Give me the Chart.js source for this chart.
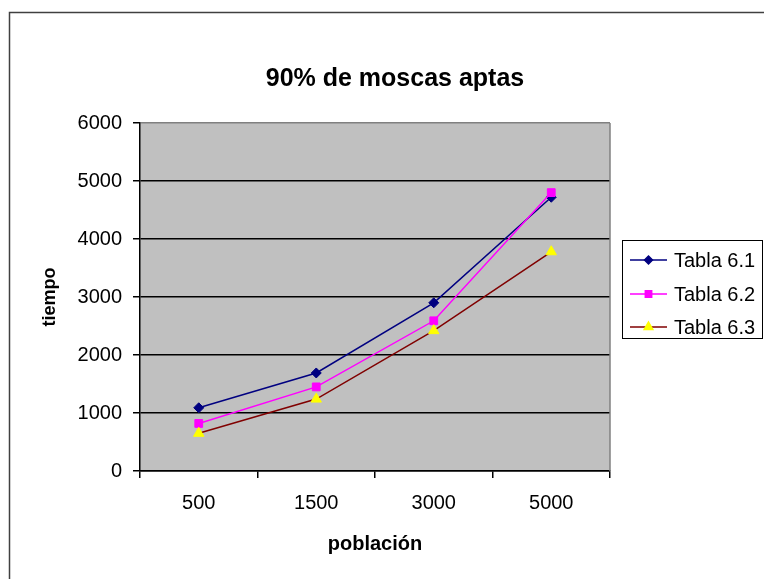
<!DOCTYPE html>
<html lang="es">
<head>
<meta charset="utf-8">
<title>90% de moscas aptas</title>
<script src="https://cdn.jsdelivr.net/npm/chart.js@4.4.1/dist/chart.umd.min.js"></script>
<style>
  html, body { margin: 0; padding: 0; background: #fff; overflow: hidden; }
  #marco { position: relative; width: 764px; height: 579px; }
</style>
</head>
<body>
<div id="marco"><canvas id="grafico" width="764" height="579"></canvas></div>
<script>
// =====================
// DATOS
// =====================
const poblacion = ["500", "1500", "3000", "5000"];
const tabla61 = [1090, 1690, 2900, 4720];
const tabla62 = [820, 1450, 2590, 4800];
const tabla63 = [650, 1240, 2420, 3780];
const nombres = ["Tabla 6.1", "Tabla 6.2", "Tabla 6.3"];
const tiempoMin = 0;
const tiempoMax = 6000;
const tiempoPaso = 1000;

const FUENTE = "'Liberation Sans', Arial, sans-serif";

// estilo de cada serie (línea, marcador)
const estilos = [
    { linea: "#000080", relleno: "#000080", forma: "rectRot", radio: 5 },
    { linea: "#FF00FF", relleno: "#FF00FF", forma: "rect", radio: 5.5 },
    { linea: "#800000", relleno: "#FFFF00", forma: "triangle", radio: 6 }
];

// =====================
// FONDO, TÍTULO Y LEYENDA
// =====================
const marcoExcel = {
    id: "marcoExcel",
    beforeDraw(chart) {
        let ctx = chart.ctx;
        let a = chart.chartArea;
        ctx.save();
        ctx.fillStyle = "#fff";
        ctx.fillRect(0, 0, chart.width, chart.height);
        ctx.strokeStyle = "#404040";
        ctx.lineWidth = 1.5;
        ctx.strokeRect(9.5, 12.5, 900, 900);
        ctx.fillStyle = "#C0C0C0";
        ctx.fillRect(a.left, a.top, a.right - a.left, a.bottom - a.top);
        ctx.restore();
    },
    afterDraw(chart) {
        let ctx = chart.ctx;
        let a = chart.chartArea;
        ctx.save();

        // borde derecho del área de trazado
        ctx.strokeStyle = "#808080";
        ctx.lineWidth = 1.5;
        ctx.beginPath();
        ctx.moveTo(a.right, a.top);
        ctx.lineTo(a.right, a.bottom);
        ctx.stroke();

        // título
        ctx.fillStyle = "#000";
        ctx.font = "bold 25px " + FUENTE;
        ctx.textAlign = "center";
        ctx.textBaseline = "alphabetic";
        ctx.fillText("90% de moscas aptas", 395, 86);

        // leyenda
        ctx.fillStyle = "#fff";
        ctx.fillRect(622, 240, 140, 98);
        ctx.strokeStyle = "#000";
        ctx.lineWidth = 1;
        ctx.strokeRect(622.5, 240.5, 140, 98);

        let filas = [260, 294, 327];
        ctx.font = "20px " + FUENTE;
        ctx.textAlign = "left";
        ctx.textBaseline = "middle";
        nombres.forEach((n, i) => {
            let e = estilos[i];
            let y = filas[i];
            ctx.strokeStyle = e.linea;
            ctx.lineWidth = 1.5;
            ctx.beginPath();
            ctx.moveTo(630, y);
            ctx.lineTo(667, y);
            ctx.stroke();
            ctx.fillStyle = e.relleno;
            ctx.strokeStyle = e.relleno;
            Chart.helpers.drawPoint(ctx, { pointStyle: e.forma, radius: e.radio - 1, rotation: 0, borderWidth: 1 }, 648.5, y);
            ctx.fillStyle = "#000";
            ctx.fillText(n, 674, y + 1);
        });
        ctx.restore();
    }
};

// =====================
// GRÁFICO
// =====================
const series = [tabla61, tabla62, tabla63];

new Chart(document.getElementById("grafico").getContext("2d"), {
    type: "line",
    data: {
        labels: poblacion,
        datasets: series.map((datos, i) => ({
            label: nombres[i],
            data: datos,
            borderColor: estilos[i].linea,
            backgroundColor: estilos[i].relleno,
            pointBackgroundColor: estilos[i].relleno,
            pointBorderColor: estilos[i].relleno,
            pointStyle: estilos[i].forma,
            pointRadius: estilos[i].radio,
            pointBorderWidth: 1,
            borderWidth: 1.5,
            tension: 0,
            fill: false,
            order: 3 - i
        }))
    },
    options: {
        responsive: false,
        animation: false,
        devicePixelRatio: 1,
        events: [],
        layout: { padding: { top: 123, right: 154, bottom: 0, left: 0 } },
        plugins: {
            legend: { display: false },
            title: { display: false },
            tooltip: { enabled: false }
        },
        scales: {
            x: {
                type: "category",
                offset: true,
                afterFit: s => { s.height = 108; },
                grid: {
                    offset: true,
                    drawOnChartArea: false,
                    drawTicks: true,
                    tickLength: 7,
                    color: "#000",
                    lineWidth: 1.5
                },
                border: { color: "#000", width: 1.5 },
                ticks: {
                    color: "#000",
                    font: { family: FUENTE, size: 20 },
                    padding: 13,
                    maxRotation: 0,
                    autoSkip: false
                },
                title: {
                    display: true,
                    text: "población",
                    color: "#000",
                    font: { family: FUENTE, size: 20, weight: "bold" },
                    padding: { top: 0, bottom: 23 }
                }
            },
            y: {
                min: tiempoMin,
                max: tiempoMax,
                afterFit: s => { s.width = 140; },
                grid: {
                    color: c => (c.tick && c.tick.value === tiempoMax ? "#808080" : "#000"),
                    tickColor: "#000",
                    tickLength: 7,
                    lineWidth: 1.5
                },
                border: { color: "#000", width: 1.5 },
                ticks: {
                    stepSize: tiempoPaso,
                    color: "#000",
                    font: { family: FUENTE, size: 20 },
                    padding: 11,
                    callback: v => String(v)
                },
                title: {
                    display: true,
                    text: "tiempo",
                    color: "#000",
                    font: { family: FUENTE, size: 18, weight: "bold" },
                    padding: { top: 39, bottom: 0 }
                }
            }
        }
    },
    plugins: [marcoExcel]
});
</script>
</body>
</html>
